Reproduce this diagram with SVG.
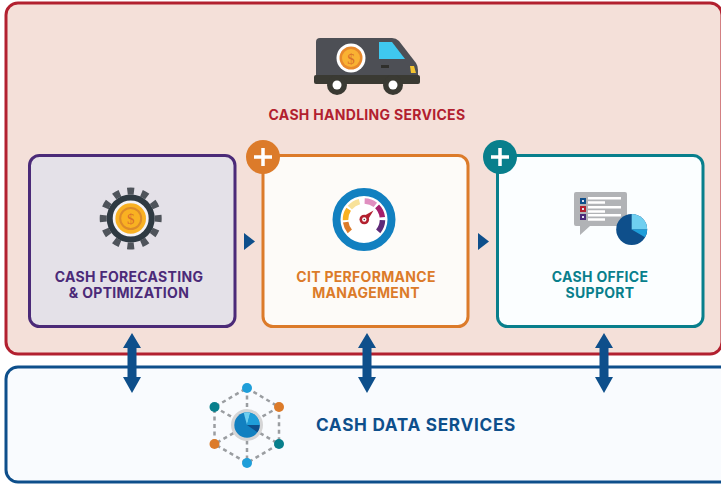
<svg xmlns="http://www.w3.org/2000/svg" width="721" height="484" viewBox="0 0 721 484">
<style>
text{font-family:"Inter","Liberation Sans",sans-serif;font-weight:700;text-anchor:middle}
.card{stroke-width:3}
.t{font-size:14px;letter-spacing:.3px}
.seg{fill:none;stroke-width:5.5}
.net{fill:none;stroke:#9a9da1;stroke-width:2.5;stroke-dasharray:4 3.5}
.dlr{font-family:"Liberation Serif",serif;font-weight:400;letter-spacing:0}
</style>
<defs>
<path id="dbl" d="M0 333L9 348H4.500V377H9L0 393L-9 377H-4.500V348H-9Z" fill="#0e4f8b"/>
<path id="tri" d="M0 233L11 241.500L0 250Z" fill="#0e4f8b"/>
</defs>
<rect width="721" height="484" fill="#fff"/>
<g id="cash-handling">
<rect x="6" y="3" width="716" height="351" rx="12" fill="#f4e0d9" stroke="#b2202f" stroke-width="3"/>
<path d="M320 38H392Q396 38 399 41L416 63Q418 66 418 70V76H316V42Q316 38 320 38Z" fill="#4d4f55"/>
<path d="M379 42H392L405 59H379Z" fill="#3fc8ef"/>
<rect x="381" y="65" width="8" height="3" fill="#2f2f2b"/>
<path d="M410 66H414L416 73H411Z" fill="#f4c430"/>
<rect x="314" y="75" width="106" height="9" rx="2" fill="#3a3a33"/>
<circle cx="337" cy="85" r="10" fill="#3a3a33"/><circle cx="337" cy="85" r="4.500" fill="#fff"/>
<circle cx="393" cy="85" r="10" fill="#3a3a33"/><circle cx="393" cy="85" r="4.500" fill="#fff"/>
<circle cx="351" cy="58" r="14.500" fill="#fff"/><circle cx="351" cy="58" r="11.500" fill="#e8892b"/><circle cx="351" cy="58" r="9" fill="#f9b233"/>
<text class="dlr" x="351" y="63.500" font-size="15" fill="#d9702a">$</text>
<text x="367" y="119.500" class="t" fill="#b2202f">CASH HANDLING SERVICES</text>
</g>
<g id="cash-data">
<rect x="6" y="367" width="730" height="115" rx="12" fill="#f9fbfe" stroke="#0e4f8b" stroke-width="3"/>
<path class="net" d="M247 388L279 407V444L247 463L214.500 444V407ZM247 388V463M214.500 407L279 444M279 407L214.500 444"/>
<circle cx="247" cy="388" r="5" fill="#1f9ed9"/><circle cx="247" cy="463" r="5" fill="#1f9ed9"/>
<circle cx="279" cy="407" r="5" fill="#dc7b2a"/><circle cx="214.500" cy="444" r="5" fill="#dc7b2a"/>
<circle cx="214.500" cy="407" r="5" fill="#087f8c"/><circle cx="279" cy="444" r="5" fill="#087f8c"/>
<circle cx="247" cy="425" r="16" fill="#d5d5d6"/>
<circle cx="247" cy="425" r="12.700" fill="#1280c0"/>
<path d="M247 425L243.700 412.700A12.700 12.700 0 0 1 250.300 412.700Z" fill="#6fcff0"/>
<path d="M247 425L250.300 412.700A12.700 12.700 0 0 1 259.700 425Z" fill="#1f9ed9"/>
<path d="M247 425H259.700A12.700 12.700 0 0 1 257.400 432.300Z" fill="#0e4f8b"/>
<text x="416" y="431" font-size="17.200px" letter-spacing=".7px" fill="#0e4f8b">CASH DATA SERVICES</text>
</g>
<g id="cash-forecasting">
<rect class="card" x="29.500" y="155.500" width="205.500" height="171" rx="10" fill="#e4e1e8" stroke="#4b2a78"/>
<circle cx="130.700" cy="218.500" r="27.500" fill="none" stroke="#4f545b" stroke-width="7" pathLength="360" stroke-dasharray="14 16" stroke-dashoffset="7"/>
<circle cx="130.700" cy="218.500" r="21" fill="#f4f3f6" stroke="#2f3a42" stroke-width="6"/>
<circle cx="130.700" cy="218.500" r="15.300" fill="#f9b122"/>
<circle cx="130.700" cy="218.500" r="10.500" fill="none" stroke="#dc8a2a" stroke-width="2"/>
<text class="dlr" x="130.700" y="224" font-size="15" fill="#d9702a">$</text>
<text x="129" y="281.500" class="t" fill="#4b2a78">CASH FORECASTING</text>
<text x="129" y="298" class="t" fill="#4b2a78">&amp; OPTIMIZATION</text>
</g>
<g id="cit-performance">
<rect class="card" x="263" y="155.500" width="205" height="171" rx="10" fill="#fdfbf8" stroke="#dc7b2a"/>
<circle cx="263" cy="157" r="17" fill="#dc7b2a"/>
<path d="M263 148V166M254 157H272" stroke="#fff" stroke-width="3.500" fill="none"/>
<circle cx="364" cy="219.500" r="27.500" fill="#fff" stroke="#1280c0" stroke-width="8"/>
<g transform="translate(364 219.500)">
<circle class="seg" r="18.500" pathLength="360" stroke-dasharray="32 328" stroke="#dc7b2a" transform="rotate(-220)"/>
<circle class="seg" r="18.500" pathLength="360" stroke-dasharray="36 324" stroke="#f9b122" transform="rotate(-182)"/>
<circle class="seg" r="18.500" pathLength="360" stroke-dasharray="36 324" stroke="#f8e29a" transform="rotate(-140)"/>
<circle class="seg" r="18.500" pathLength="360" stroke-dasharray="36 324" stroke="#e08fc0" transform="rotate(-88)"/>
<circle class="seg" r="18.500" pathLength="360" stroke-dasharray="38 322" stroke="#a61e6b" transform="rotate(-45)"/>
<circle class="seg" r="18.500" pathLength="360" stroke-dasharray="38 322" stroke="#5e2a78" transform="rotate(2)"/>
</g>
<path d="M362 217L373.500 210.500L366.500 222Z" fill="#b2202f"/>
<circle cx="364.300" cy="219.500" r="4.800" fill="#b2202f"/><circle cx="364.300" cy="219.500" r="2.200" fill="#fff"/><circle cx="364.300" cy="219.500" r=".8" fill="#444"/>
<text x="366" y="281.500" class="t" fill="#dc7b2a">CIT PERFORMANCE</text>
<text x="366" y="298" class="t" fill="#dc7b2a">MANAGEMENT</text>
</g>
<g id="cash-office">
<rect class="card" x="497.500" y="155.500" width="205.500" height="171" rx="10" fill="#fbfeff" stroke="#087f8c"/>
<circle cx="500" cy="157" r="17" fill="#087f8c"/>
<path d="M500 148V166M491 157H509" stroke="#fff" stroke-width="3.500" fill="none"/>
<path d="M576 192H625Q627 192 627 194V224Q627 226 625 226H590L580 235V226H576Q574 226 574 224V194Q574 192 576 192Z" fill="#b1b3b6"/>
<rect x="580" y="198" width="6" height="6" fill="#0e4f8b"/><rect x="582" y="200" width="2" height="2" fill="#dde"/>
<rect x="580" y="206" width="6" height="6" fill="#b2202f"/><rect x="582" y="208" width="2" height="2" fill="#dde"/>
<rect x="580" y="214" width="6" height="6" fill="#4b2a78"/><rect x="582" y="216" width="2" height="2" fill="#dde"/>
<path d="M588 198.300H621M588 202.400H605M588 207.300H621M588 211.400H605M588 215.300H621M588 219.400H605" stroke="#fff" stroke-width="2.500" fill="none"/>
<circle cx="631.700" cy="229.500" r="15.500" fill="#0e4f8b"/>
<path d="M631.700 229.500V214A15.500 15.500 0 0 1 647.200 229.500Z" fill="#6fcff0"/>
<path d="M631.700 229.500H647.200A15.500 15.500 0 0 1 645 237.300Z" fill="#1f9ed9"/>
<text x="600" y="281.500" class="t" fill="#087f8c">CASH OFFICE</text>
<text x="600" y="298" class="t" fill="#087f8c">SUPPORT</text>
</g>
<g id="connectors">
<use href="#tri" x="244"/>
<use href="#tri" x="478"/>
<use href="#dbl" x="132"/>
<use href="#dbl" x="367"/>
<use href="#dbl" x="604"/>
</g>
</svg>
